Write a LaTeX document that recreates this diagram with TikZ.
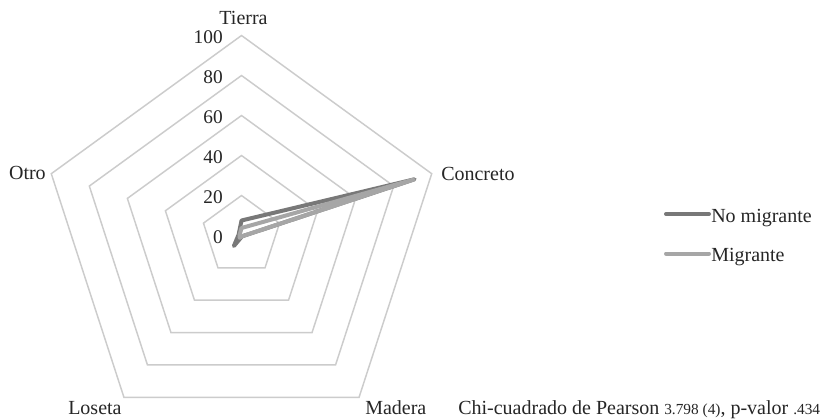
\documentclass[tikz,border=0pt]{standalone}
\usepackage{fontspec}
\setmainfont{Liberation Serif}
\begin{document}
\begin{tikzpicture}[x=0.75pt,y=0.75pt,
  grid/.style={draw=black!20,line width=1.1pt,line join=miter},
  sernomig/.style={draw=black!53,line width=3pt,line join=round,line cap=round},
  sermig/.style={draw=black!35,line width=3pt,line join=round,line cap=round},
  lbl/.style={inner sep=0pt,font=\fontsize{15}{18}\selectfont,text=black!85},
  num/.style={inner sep=0pt,font=\fontsize{14.5}{17}\selectfont,text=black!85,anchor=east}]
\path[use as bounding box,fill=white] (0,0) rectangle (820,-418);
\begin{scope}[shift={(241.5,-235.5)}]
  \foreach \r in {40,80,120,160,200}
    \draw[grid] (90:\r) -- (18:\r) -- (-54:\r) -- (-126:\r) -- (162:\r) -- cycle;
  \draw[sernomig] (90:15) -- (18:182) -- (-54:1) -- (-126:13) -- (162:3) -- cycle;
  \draw[sermig] (90:7.5) -- (18:181) -- (-54:1) -- (-126:3) -- (162:2) -- cycle;
\end{scope}
% ring values
\node[num] (v0) at (223,-237) {0};
\node[num] (v20) at (223,-197) {20};
\node[num] (v40) at (223,-157) {40};
\node[num] (v60) at (223,-117) {60};
\node[num] (v80) at (223,-77) {80};
\node[num] (v100) at (223,-37) {100};
% axis labels
\node[lbl,anchor=base] (tierra) at (243.5,-24) {Tierra};
\node[lbl,anchor=base west] (concreto) at (441,-180) {Concreto};
\node[lbl,anchor=base west] (madera) at (365,-414) {Madera};
\node[lbl,anchor=base west] (loseta) at (68,-414) {Loseta};
\node[lbl,anchor=base east] (otro) at (46,-179) {Otro};
% legend
\coordinate (la1) at (666,-214);
\coordinate (lb1) at (709,-214);
\draw[sernomig] (la1) -- (lb1);
\node[lbl,anchor=base west] (lnomig) at (711,-222.5) {No migrante};
\coordinate (la2) at (666,-253.5);
\coordinate (lb2) at (709,-253.5);
\draw[sermig] (la2) -- (lb2);
\node[lbl,anchor=base west] (lmig) at (711,-261.5) {Migrante};
% note
\node[lbl,anchor=base west] (chi) at (458,-414) {Chi-cuadrado de Pearson {\fontsize{11.5}{14}\selectfont 3.798 (4)}, p-valor {\fontsize{11.5}{14}\selectfont .434}};
\end{tikzpicture}
\end{document}
